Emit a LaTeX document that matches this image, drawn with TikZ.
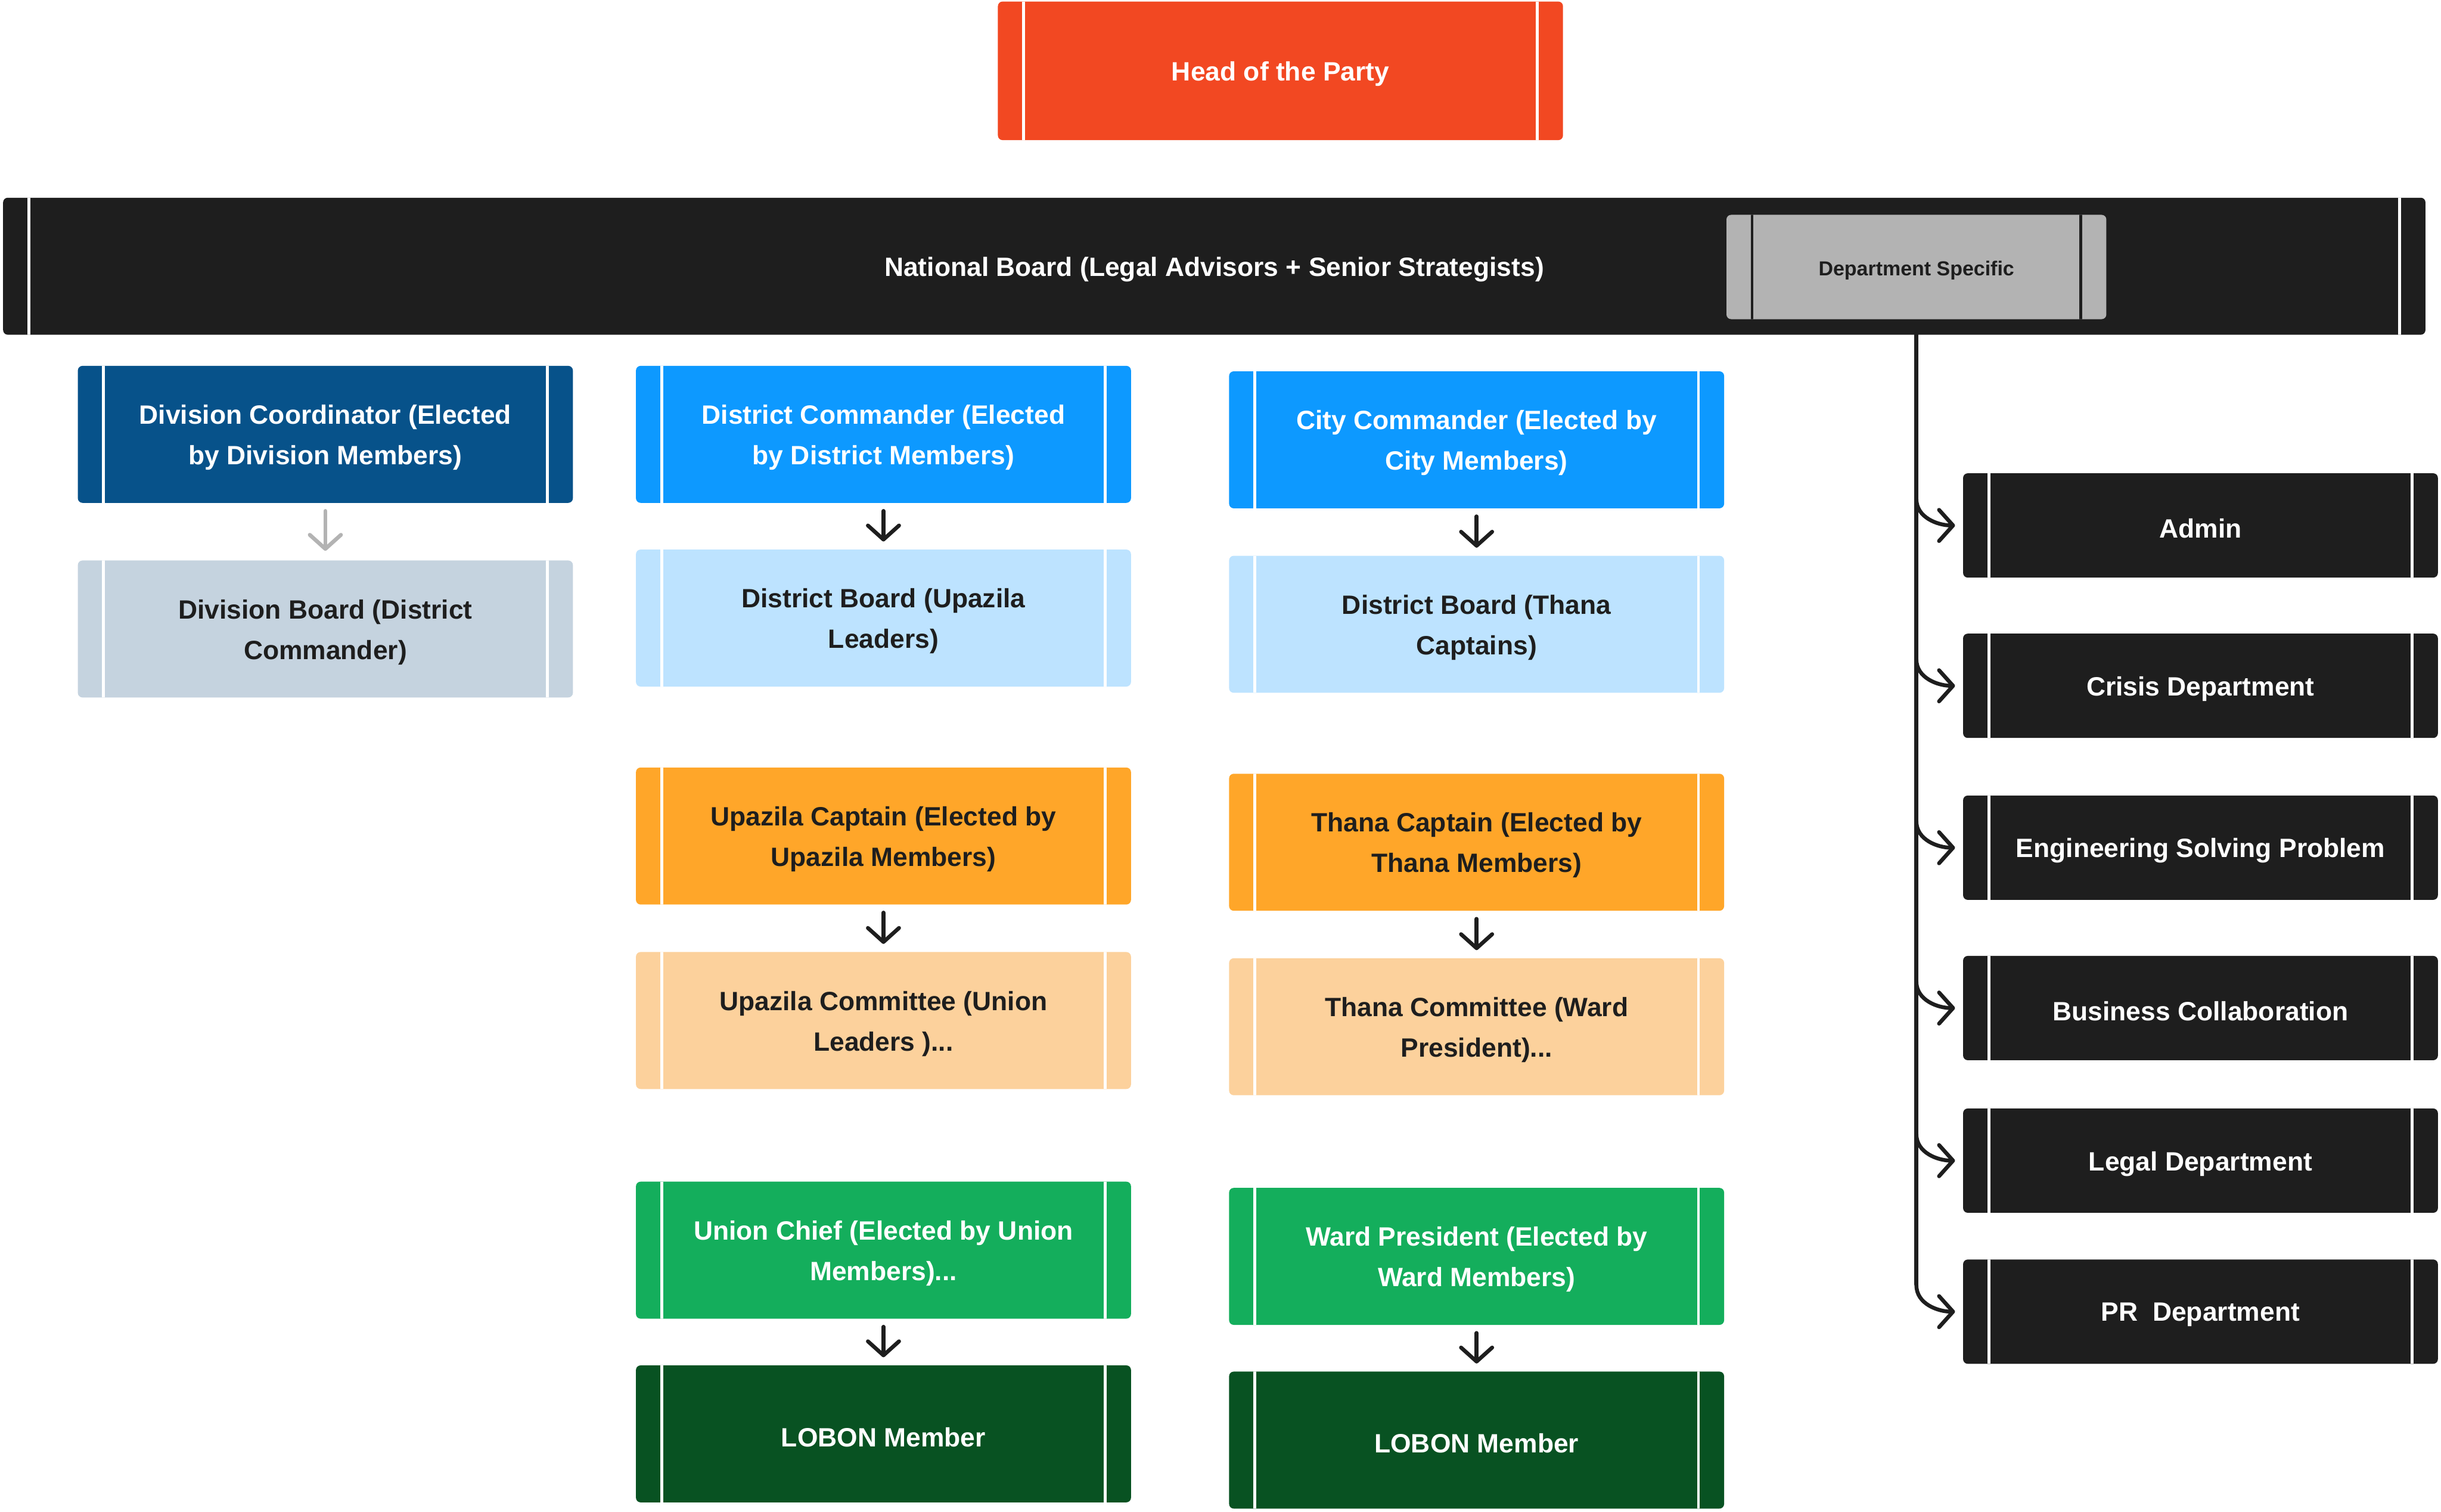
\documentclass[tikz,border=0pt]{standalone}
\usepackage{fontspec}
\setmainfont{Liberation Sans}
\usetikzlibrary{arrows.meta,calc}
\definecolor{headred}{HTML}{F24822}
\definecolor{darkc}{HTML}{1E1E1E}
\definecolor{deptgray}{HTML}{B3B3B3}
\definecolor{navy}{HTML}{07528A}
\definecolor{navylight}{HTML}{C5D3DF}
\definecolor{blue}{HTML}{0D99FF}
\definecolor{bluelight}{HTML}{BDE3FF}
\definecolor{orange}{HTML}{FFA629}
\definecolor{orangelight}{HTML}{FCD19C}
\definecolor{green}{HTML}{14AE5C}
\definecolor{greendark}{HTML}{085222}
\definecolor{arrgray}{HTML}{B3B3B3}
% box with its text set 2pt lower than the geometric centre
\newcommand\bx[6]{%
  \node[#4] (#1) at (#2,#3) {};
  \node[txt, #5] (#1-t) at ([yshift=-2pt]#1.center) {#6};}
\begin{document}
\begin{tikzpicture}[x=1pt,y=-1pt,
  stripecolor/.store in=\stripecol, stripecolor=white,
  box/.style={rectangle, rounded corners=3pt, inner sep=0pt,
    path picture={\draw[draw=\stripecol, line width=1.8pt]
      ([xshift=16.5pt]path picture bounding box.north west) -- ([xshift=16.5pt]path picture bounding box.south west)
      ([xshift=-16.5pt]path picture bounding box.north east) -- ([xshift=-16.5pt]path picture bounding box.south east);}},
  txt/.style={inner sep=0pt, align=center, font=\bfseries\fontsize{17}{26}\selectfont},
  colbox/.style={box, minimum width=318pt, minimum height=88pt},
  deptbox/.style={box, fill=darkc, minimum width=305pt, minimum height=67pt},
  arr/.style={draw=darkc, line width=2.5pt, line cap=round,
    -{Straight Barb[length=9pt,width=20pt,round]}},
  conn/.style={draw=darkc, line width=2.5pt}
]
\useasboundingbox (0,0) rectangle (1568,971);
\fill[white] (0,0) rectangle (1568,971);

% top
\bx{head}{822.5}{45.5}{box, fill=headred, minimum width=363pt, minimum height=89pt}{text=white}{Head of the Party}
\bx{board}{780}{171}{box, fill=darkc, minimum width=1556pt, minimum height=88pt}{text=white}{National Board (Legal Advisors + Senior Strategists)}
\bx{dept}{1231}{171.5}{box, fill=deptgray, stripecolor=darkc, minimum width=244pt, minimum height=67pt}{text=darkc, font=\bfseries\fontsize{13}{16}\selectfont}{Department Specific}

% column 1
\bx{divc}{209}{279}{colbox, fill=navy}{text=white}{Division Coordinator (Elected\\by Division Members)}
\bx{divb}{209}{404}{colbox, fill=navylight}{text=darkc}{Division Board (District\\Commander)}

% column 2
\bx{distc}{567.5}{279}{colbox, fill=blue}{text=white}{District Commander (Elected\\by District Members)}
\bx{distb}{567.5}{397}{colbox, fill=bluelight}{text=darkc}{District Board (Upazila\\Leaders)}
\bx{upc}{567.5}{537}{colbox, fill=orange}{text=darkc}{Upazila Captain (Elected by\\Upazila Members)}
\bx{upcom}{567.5}{655.5}{colbox, fill=orangelight}{text=darkc}{Upazila Committee (Union\\Leaders )...}
\bx{unc}{567.5}{803}{colbox, fill=green}{text=white}{Union Chief (Elected by Union\\Members)...}
\bx{lob1}{567.5}{921}{colbox, fill=greendark}{text=white}{LOBON Member}

% column 3
\bx{cityc}{948.5}{282.5}{colbox, fill=blue}{text=white}{City Commander (Elected by\\City Members)}
\bx{distbt}{948.5}{401}{colbox, fill=bluelight}{text=darkc}{District Board (Thana\\Captains)}
\bx{thc}{948.5}{541}{colbox, fill=orange}{text=darkc}{Thana Captain (Elected by\\Thana Members)}
\bx{thcom}{948.5}{659.5}{colbox, fill=orangelight}{text=darkc}{Thana Committee (Ward\\President)...}
\bx{ward}{948.5}{807}{colbox, fill=green}{text=white}{Ward President (Elected by\\Ward Members)}
\bx{lob2}{948.5}{925}{colbox, fill=greendark}{text=white}{LOBON Member}

% departments
\bx{admin}{1413.5}{337.5}{deptbox}{text=white}{Admin}
\bx{crisis}{1413.5}{440.5}{deptbox}{text=white}{Crisis Department}
\bx{eng}{1413.5}{544.5}{deptbox}{text=white}{Engineering Solving Problem}
\bx{bus}{1413.5}{647.5}{deptbox}{text=white}{Business Collaboration}
\bx{legal}{1413.5}{745.5}{deptbox}{text=white}{Legal Department}
\bx{pr}{1413.5}{842.5}{deptbox}{text=white}{PR\ \ Department}

% down arrows
\draw[arr, draw=arrgray, shorten <=5pt, shorten >=6pt] (divc.south) -- (divb.north);
\foreach \a/\b in {distc/distb, upc/upcom, unc/lob1, cityc/distbt, thc/thcom, ward/lob2}
  \draw[arr, shorten <=5pt, shorten >=5pt] (\a.south) -- (\b.north);

% department connectors
\coordinate (vend) at ($(pr.west -| dept.south)+(0,-17)$);
\draw[conn] (dept.south) -- (vend);
\foreach \d in {admin, crisis, eng, bus, legal, pr}
  \draw[arr, shorten >=5pt] ($(\d.west -| dept.south)+(0,-17)$) .. controls +(0,12) and +(-16,0) .. (\d.west);
\end{tikzpicture}
\end{document}
